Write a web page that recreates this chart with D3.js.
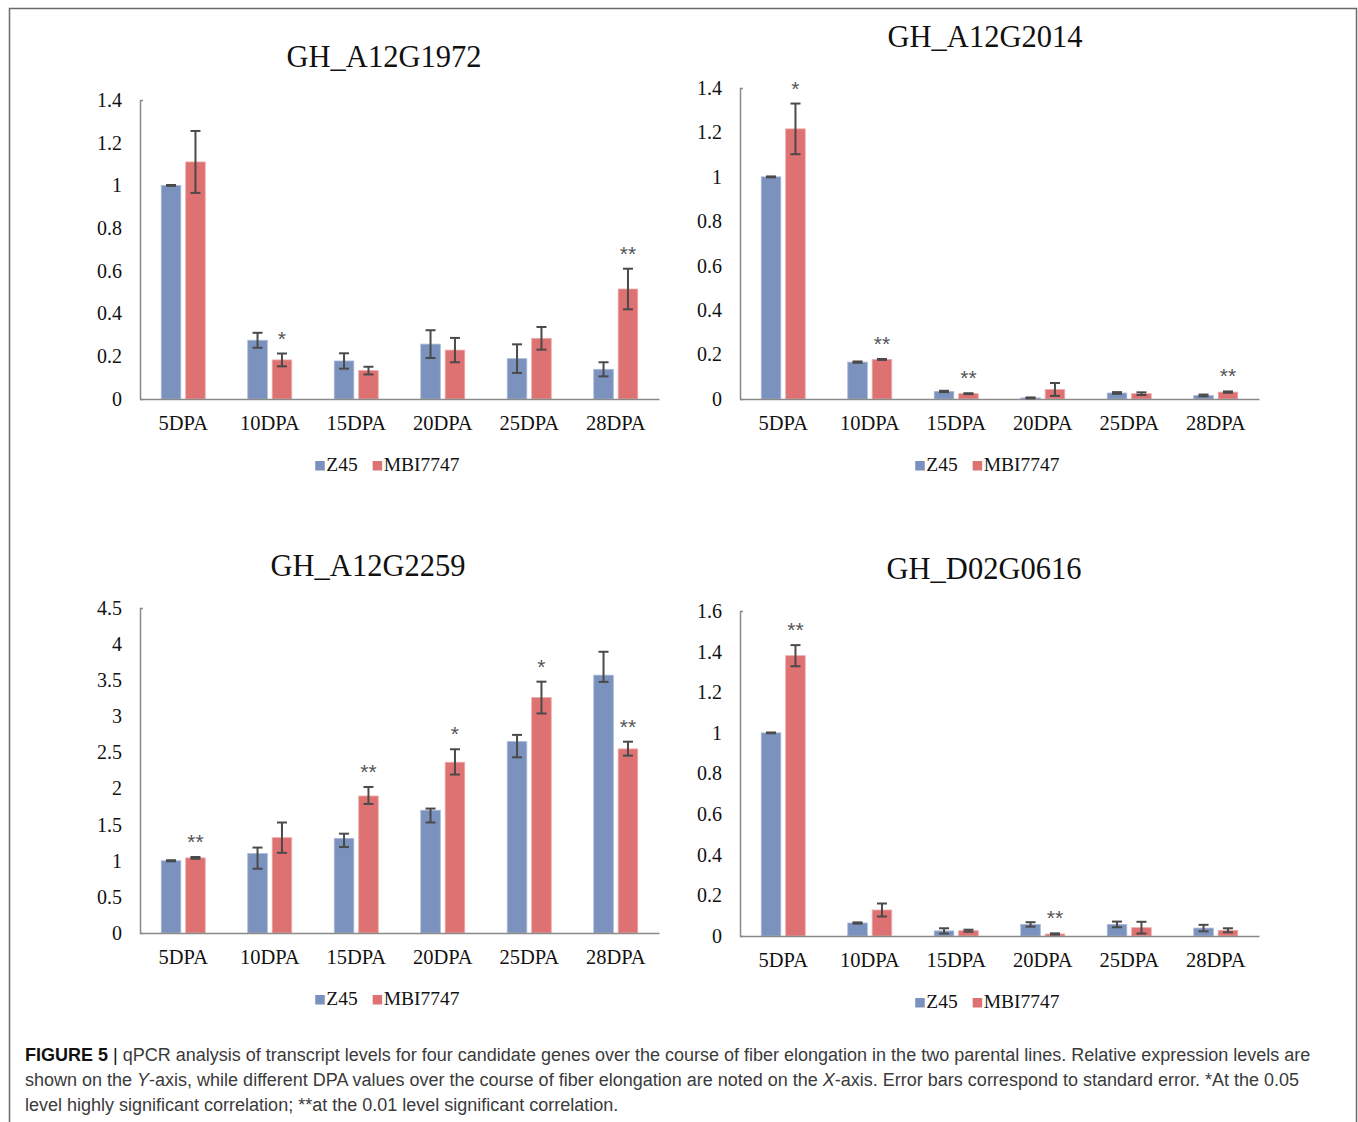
<!DOCTYPE html>
<html>
<head>
<meta charset="utf-8">
<script src="https://cdn.jsdelivr.net/npm/d3@7"></script>
<style>
  body { margin: 0; background: #fff; }
  svg { display: block; }
</style>
</head>
<body>
<div id="chart"></div>
<script>
// Data
// ==========================
var categories = ["5DPA", "10DPA", "15DPA", "20DPA", "25DPA", "28DPA"];
var seriesNames = ["Z45", "MBI7747"];
var genes = ["GH_A12G1972", "GH_A12G2014", "GH_A12G2259", "GH_D02G0616"];

// error arrays hold [minus, plus]
var a1972Z45 = [1.0, 0.275, 0.178, 0.257, 0.189, 0.139];
var a1972Z45Err = [[0.002, 0.002], [0.035, 0.035], [0.036, 0.036], [0.065, 0.065], [0.067, 0.067], [0.033, 0.033]];
var a1972MBI = [1.11, 0.183, 0.133, 0.229, 0.284, 0.515];
var a1972MBIErr = [[0.145, 0.145], [0.03, 0.03], [0.018, 0.018], [0.057, 0.057], [0.053, 0.053], [0.095, 0.095]];
var a1972Sig = ["", "*", "", "", "", "**"];

var a2014Z45 = [1.0, 0.166, 0.034, 0.005, 0.027, 0.016];
var a2014Z45Err = [[0.002, 0.002], [0.003, 0.003], [0.003, 0.003], [0.002, 0.002], [0.004, 0.004], [0.004, 0.004]];
var a2014MBI = [1.216, 0.178, 0.024, 0.043, 0.024, 0.031];
var a2014MBIErr = [[0.114, 0.114], [0.002, 0.002], [0.002, 0.002], [0.029, 0.029], [0.006, 0.006], [0.003, 0.003]];
var a2014Sig = ["*", "**", "**", "", "", "**"];

var a2259Z45 = [1.0, 1.10, 1.31, 1.70, 2.65, 3.57];
var a2259Z45Err = [[0.008, 0.008], [0.21, 0.083], [0.12, 0.065], [0.17, 0.023], [0.217, 0.093], [0.093, 0.324]];
var a2259MBI = [1.04, 1.32, 1.897, 2.364, 3.26, 2.549];
var a2259MBIErr = [[0.012, 0.012], [0.21, 0.21], [0.11, 0.125], [0.17, 0.18], [0.22, 0.22], [0.093, 0.1]];
var a2259Sig = ["**", "", "**", "*", "*", "**"];

var d0616Z45 = [1.0, 0.064, 0.025, 0.057, 0.057, 0.039];
var d0616Z45Err = [[0.002, 0.002], [0.003, 0.003], [0.013, 0.013], [0.011, 0.011], [0.014, 0.014], [0.016, 0.016]];
var d0616MBI = [1.38, 0.128, 0.026, 0.01, 0.041, 0.028];
var d0616MBIErr = [[0.052, 0.052], [0.032, 0.032], [0.005, 0.005], [0.003, 0.003], [0.029, 0.029], [0.01, 0.01]];
var d0616Sig = ["**", "", "", "**", "", ""];

var yMaxes = [1.4, 1.4, 4.5, 1.6];
var yTickSteps = [0.2, 0.2, 0.5, 0.2];

// Layout
// ======
var width = 1358;
var height = 1122;
var colors = { "Z45": "#7a92bd", "MBI7747": "#de7272" };
var strokes = { "Z45": "#a9b9d8", "MBI7747": "#eeaaaa" };
var serif = "'Liberation Serif', 'Times New Roman', serif";

var panels = [
  { gene: genes[0], z: a1972Z45, zErr: a1972Z45Err, m: a1972MBI, mErr: a1972MBIErr, sig: a1972Sig,
    left: 140, right: 659, top: 100, bottom: 399, titleX: 384, titleY: 67 },
  { gene: genes[1], z: a2014Z45, zErr: a2014Z45Err, m: a2014MBI, mErr: a2014MBIErr, sig: a2014Sig,
    left: 740, right: 1259, top: 88, bottom: 399, titleX: 985, titleY: 47 },
  { gene: genes[2], z: a2259Z45, zErr: a2259Z45Err, m: a2259MBI, mErr: a2259MBIErr, sig: a2259Sig,
    left: 140, right: 659, top: 608, bottom: 933, titleX: 368, titleY: 576 },
  { gene: genes[3], z: d0616Z45, zErr: d0616Z45Err, m: d0616MBI, mErr: d0616MBIErr, sig: d0616Sig,
    left: 740, right: 1259, top: 611, bottom: 936, titleX: 984, titleY: 579 }
];

var svg = d3.select("#chart")
  .append("svg")
  .attr("width", width)
  .attr("height", height);

// outer frame of the figure
svg.append("rect")
  .attr("x", 9.5).attr("y", 8.5)
  .attr("width", 1347).attr("height", 1140)
  .attr("fill", "none")
  .attr("stroke", "#6a6a6a")
  .attr("stroke-width", 1.5);

panels.forEach(function(p, i) {
  var g = svg.append("g");

  var x0 = d3.scaleBand().domain(categories).range([p.left, p.right]);
  var x1 = d3.scaleBand().domain(seriesNames).range([0, x0.bandwidth()])
    .paddingInner(0.2).paddingOuter(0.87);
  var y = d3.scaleLinear().domain([0, yMaxes[i]]).range([p.bottom, p.top]);

  var ticks = d3.range(0, yMaxes[i] + 1e-9, yTickSteps[i]);

  // title
  g.append("text")
    .attr("x", p.titleX).attr("y", p.titleY)
    .attr("text-anchor", "middle")
    .style("font-family", serif)
    .style("font-size", "30.5px")
    .attr("fill", "#111")
    .text(p.gene);

  // bars
  var rows = categories.map(function(c, k) {
    return [
      { cat: c, name: "Z45", v: p.z[k], err: p.zErr[k], sig: "" },
      { cat: c, name: "MBI7747", v: p.m[k], err: p.mErr[k], sig: p.sig[k] }
    ];
  });
  var flat = [].concat.apply([], rows);

  g.selectAll("rect.bar").data(flat).enter()
    .append("rect")
    .attr("class", "bar")
    .attr("x", function(d) { return x0(d.cat) + x1(d.name); })
    .attr("y", function(d) { return y(d.v); })
    .attr("width", x1.bandwidth())
    .attr("height", function(d) { return y(0) - y(d.v); })
    .attr("fill", function(d) { return colors[d.name]; })
    .attr("stroke", function(d) { return strokes[d.name]; })
    .attr("stroke-width", 0.8);

  // axes
  var yAxis = d3.axisLeft(y).tickValues(ticks)
    .tickSizeInner(0).tickSizeOuter(-3).tickPadding(18)
    .tickFormat(function(d) { return d3.format("~g")(+d.toFixed(2)); });
  var yg = g.append("g").attr("transform", "translate(" + p.left + ",0)").call(yAxis);
  yg.selectAll("text")
    .style("font-family", serif).style("font-size", "20px").attr("fill", "#111");
  yg.select(".domain").attr("stroke", "#8a8a8a").attr("stroke-width", 1.5);

  var xAxis = d3.axisBottom(x0).tickSize(0).tickSizeOuter(0).tickPadding(16);
  var xg = g.append("g").attr("transform", "translate(0," + p.bottom + ")").call(xAxis);
  xg.selectAll("text")
    .style("font-family", serif).style("font-size", "20.5px").attr("fill", "#111");
  xg.select(".domain").attr("stroke", "#8a8a8a").attr("stroke-width", 1.5);

  // error bars
  var capW = 5;
  var eb = g.selectAll("g.err").data(flat).enter().append("g").attr("class", "err")
    .attr("stroke", "#4a4a4a").attr("stroke-width", 2);
  function cx(d) { return x0(d.cat) + x1(d.name) + x1.bandwidth() / 2; }
  eb.append("line")
    .attr("x1", cx).attr("x2", cx)
    .attr("y1", function(d) { return y(d.v + d.err[1]); })
    .attr("y2", function(d) { return y(d.v - d.err[0]); });
  eb.append("line")
    .attr("x1", function(d) { return cx(d) - capW; }).attr("x2", function(d) { return cx(d) + capW; })
    .attr("y1", function(d) { return y(d.v + d.err[1]); })
    .attr("y2", function(d) { return y(d.v + d.err[1]); });
  eb.append("line")
    .attr("x1", function(d) { return cx(d) - capW; }).attr("x2", function(d) { return cx(d) + capW; })
    .attr("y1", function(d) { return y(d.v - d.err[0]); })
    .attr("y2", function(d) { return y(d.v - d.err[0]); });

  // significance marks
  g.selectAll("text.sig").data(flat.filter(function(d) { return d.sig; })).enter()
    .append("text")
    .attr("class", "sig")
    .attr("x", cx)
    .attr("y", function(d) { return y(d.v + d.err[1]) - 8; })
    .attr("text-anchor", "middle")
    .style("font-family", "'Liberation Sans', Arial, sans-serif")
    .style("font-size", "21px")
    .attr("fill", "#555")
    .text(function(d) { return d.sig; });

  // legend
  var lg = g.append("g").attr("transform", "translate(0," + (p.bottom + 72) + ")");
  var items = lg.selectAll("g").data(seriesNames).enter().append("g");
  items.append("rect")
    .attr("y", -10).attr("width", 9.5).attr("height", 9.5)
    .attr("fill", function(d) { return colors[d]; });
  items.append("text")
    .attr("x", 11)
    .style("font-family", serif).style("font-size", "19.5px").attr("fill", "#111")
    .text(function(d) { return d; });
  var offs = [], acc = 0;
  items.each(function() {
    offs.push(acc);
    acc += this.getBBox().width + 15;
  });
  acc -= 15;
  var start = (p.left + p.right) / 2 - 12 - acc / 2;
  items.attr("transform", function(d, k) { return "translate(" + (start + offs[k]) + ",0)"; });
});

// caption
var caption = svg.append("g")
  .style("font-family", "'Liberation Sans', Arial, sans-serif")
  .style("font-size", "18px")
  .attr("fill", "#3a3a3a");

var line1 = caption.append("text").attr("x", 25).attr("y", 1061);
line1.append("tspan").attr("font-weight", "bold").attr("fill", "#111").text("FIGURE 5");
line1.append("tspan").attr("fill", "#111").text(" | ");
line1.append("tspan").text("qPCR analysis of transcript levels for four candidate genes over the course of fiber elongation in the two parental lines. Relative expression levels are");

var line2 = caption.append("text").attr("x", 25).attr("y", 1086);
line2.append("tspan").text("shown on the ");
line2.append("tspan").attr("font-style", "italic").text("Y");
line2.append("tspan").text("-axis, while different DPA values over the course of fiber elongation are noted on the ");
line2.append("tspan").attr("font-style", "italic").text("X");
line2.append("tspan").text("-axis. Error bars correspond to standard error. *At the 0.05");

caption.append("text").attr("x", 25).attr("y", 1111)
  .text("level highly significant correlation; **at the 0.01 level significant correlation.");
</script>
</body>
</html>
